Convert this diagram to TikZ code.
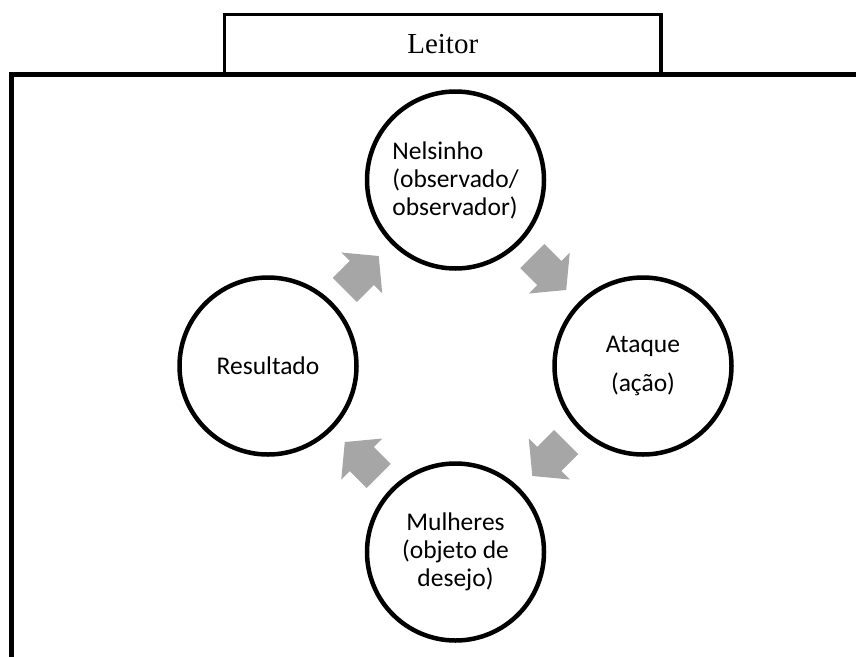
\documentclass[tikz,border=0pt]{standalone}
\usepackage{fontspec}
\setmainfont{Carlito}
\newfontfamily\leitorfont{Liberation Serif}
\usetikzlibrary{calc}
\definecolor{setacinza}{RGB}{166,166,166}
\tikzset{
  etapa/.style={circle, draw, line width=4.5pt, minimum size=177pt, inner sep=0pt,
    align=center, font=\fontsize{25.5}{28}\selectfont},
  seta/.style={fill=setacinza},
  moldura/.style={line width=5pt},
  caixa/.style={draw, line width=3.3pt, minimum width=436.5pt, minimum height=60.2pt,
    inner sep=0pt, font=\leitorfont\fontsize{29}{34}\selectfont}
}
\begin{document}
\begin{tikzpicture}[x=1pt, y=-1pt]
        \useasboundingbox (0,0) rectangle (856,656);
        % moldura e caixa do leitor
        \node[caixa] (leitor) at (442.75,44.4) {Leitor};
        \coordinate (cantoA) at (11.5,660);
        \coordinate (cantoB) at (860,74.5);
        \draw[moldura] (cantoA) |- (cantoB);
        % ciclo
        \node[etapa, align=left] (nel) at (455.5,180) {Nelsinho\\(observado/\\observador)};
        \node[etapa] (ata) at (643,366) {Ataque\\[11pt](ação)};
        \node[etapa] (mul) at (455.5,552) {Mulheres\\(objeto de\\desejo)};
        \node[etapa] (res) at (268,366) {Resultado};
        \foreach \a/\b/\r in {nel/ata/-45, ata/mul/-135, mul/res/135, res/nel/45}
            \fill[seta, shift={($(\a)!0.5!(\b)$)}, rotate=\r]
                (-24,-17) -- (0,-17) -- (0,-29) -- (24,0) -- (0,29) -- (0,17) -- (-24,17) -- cycle;
    \end{tikzpicture}
\end{document}
